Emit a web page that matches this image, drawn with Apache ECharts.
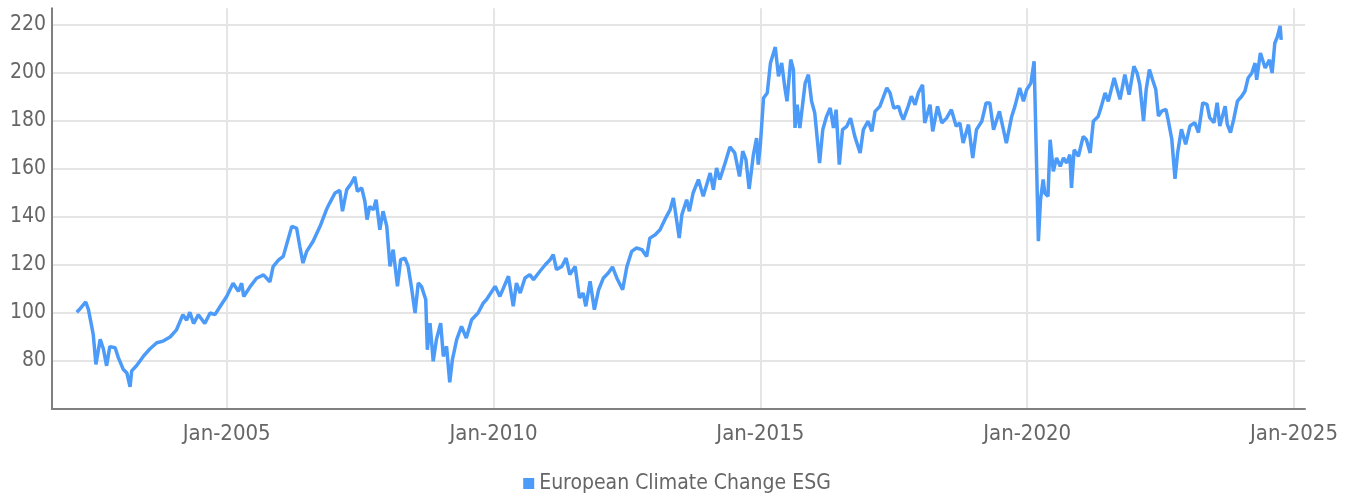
<!DOCTYPE html>
<html>
<head>
<meta charset="utf-8">
<script src="https://cdn.jsdelivr.net/npm/echarts@6/dist/echarts.min.js"></script>
<style>
html,body{margin:0;padding:0;background:#fff;}
#chart{width:1354px;height:493px;}
</style>
</head>
<body>
<div id="chart"></div>
<script>
// time in fractional years
const years = [
2002.19,2002.25,2002.36,2002.41,2002.47,2002.50,2002.55,2002.63,2002.69,2002.75,2002.81,2002.91,2002.97,
2003.06,2003.13,2003.19,2003.22,2003.31,2003.44,2003.56,2003.69,2003.81,2003.94,
2004.06,2004.18,2004.25,2004.31,2004.38,2004.47,2004.59,2004.69,2004.78,2004.88,
2005.00,2005.12,2005.22,2005.28,2005.32,2005.44,2005.56,2005.69,2005.81,2005.87,2005.97,
2006.06,2006.22,2006.31,2006.37,2006.43,2006.50,2006.62,2006.75,2006.87,2006.93,
2007.03,2007.12,2007.17,2007.25,2007.34,2007.40,2007.45,2007.53,2007.59,2007.63,2007.68,2007.75,2007.80,2007.87,2007.93,
2008.00,2008.06,2008.12,2008.20,2008.26,2008.34,2008.40,2008.46,2008.53,2008.59,2008.65,2008.73,2008.76,2008.81,2008.87,2008.93,
2009.01,2009.06,2009.12,2009.18,2009.23,2009.31,2009.40,2009.49,2009.59,2009.71,2009.81,2009.87,
2010.03,2010.12,2010.28,2010.37,2010.43,2010.50,2010.59,2010.68,2010.75,2010.87,2010.97,
2011.06,2011.12,2011.18,2011.28,2011.36,2011.43,2011.53,2011.61,2011.68,2011.73,2011.81,2011.89,2011.97,
2012.06,2012.15,2012.23,2012.31,2012.42,2012.50,2012.59,2012.68,2012.78,2012.87,2012.93,
2013.03,2013.12,2013.21,2013.31,2013.37,2013.43,2013.48,2013.53,2013.62,2013.67,2013.74,2013.84,2013.93,
2014.06,2014.12,2014.18,2014.24,2014.34,2014.43,2014.52,2014.61,2014.67,2014.73,2014.79,2014.87,2014.93,2014.96,
2015.00,2015.06,2015.13,2015.19,2015.28,2015.34,2015.40,2015.46,2015.50,2015.57,2015.62,2015.65,2015.69,2015.74,2015.84,2015.90,2015.96,
2016.02,2016.11,2016.17,2016.24,2016.31,2016.37,2016.42,2016.48,2016.54,2016.62,2016.69,2016.77,2016.87,2016.93,
2017.02,2017.09,2017.15,2017.24,2017.30,2017.37,2017.43,2017.50,2017.59,2017.64,2017.68,2017.77,2017.83,2017.90,2017.96,
2018.04,2018.08,2018.18,2018.23,2018.32,2018.40,2018.49,2018.58,2018.67,2018.74,2018.80,2018.90,2018.98,
2019.05,2019.15,2019.23,2019.30,2019.37,2019.48,2019.52,2019.61,2019.71,2019.77,2019.86,2019.93,2019.99,
2020.07,2020.13,2020.16,2020.21,2020.25,2020.30,2020.33,2020.39,2020.43,2020.49,2020.55,2020.62,2020.68,2020.74,2020.80,2020.83,2020.88,2020.96,
2021.05,2021.11,2021.18,2021.24,2021.33,2021.39,2021.46,2021.52,2021.55,2021.63,2021.74,2021.83,2021.91,
2022.00,2022.06,2022.11,2022.18,2022.23,2022.29,2022.35,2022.41,2022.46,2022.52,2022.60,2022.64,2022.71,2022.77,2022.82,2022.89,2022.97,
2023.05,2023.14,2023.21,2023.29,2023.37,2023.42,2023.50,2023.56,2023.61,2023.71,2023.75,2023.81,2023.87,2023.94,
2024.02,2024.08,2024.14,2024.21,2024.27,2024.30,2024.37,2024.46,2024.54,2024.59,2024.64,2024.69,2024.74,2024.76
];
// index level
const values = [
100.3,101.7,104.6,101.4,94.5,91,78.6,89,85,78,86,85.5,81.4,
76.6,75,69.2,75.9,78,82,85,87.6,88.3,90,
93,99.3,97,100.3,95.6,99.3,95.6,100,99.3,102.8,
106.9,112.4,109,112.4,106.9,111,114.5,115.9,113,119.3,122,
123.6,136.1,135.4,127.8,120.8,125.7,129.9,136.1,143.1,145.8,
150,151.1,142.4,151.4,154.2,156.7,150.7,152.1,146.5,138.9,144.4,143,147.2,134.7,142.4,
136.1,119.4,126.4,111.1,122.2,122.9,119.4,111.1,100,112.5,111.1,105.6,84.7,95.8,79.9,88.9,
95.8,81.9,86.1,71.1,80.6,88.9,94.4,89.6,97.2,100,104.2,105.6,
111.1,106.9,115.3,102.8,112.5,108.3,114.6,116,113.9,117.4,120.1,
122.2,124.3,118.1,119.4,122.9,116,119.4,106.3,108.3,102.8,113.2,101.4,109.7,
114.6,116.7,119.2,114.6,109.7,119.4,125.7,127.1,126.4,123.6,131.2,
132.6,134.7,138.9,143.1,147.9,138.9,131.2,141,147.2,142.4,150,155.6,148.6,
158.3,151.4,160.4,155.6,162.5,169.2,166.7,156.9,167.4,163.9,151.7,166,172.9,161.8,
170,189.6,191.7,204.2,210.8,198.6,204.2,193.8,188.2,205.6,201.4,177.1,186.8,177.1,195.8,199.3,188.2,
183.3,162.5,176.4,181.9,185.4,177.1,184.7,161.8,176.4,177.8,181.2,173.6,166.7,176.4,
179.9,175.7,184,186.1,189.6,193.8,191.7,185.4,186.1,182.5,180.6,186.1,190.3,186.8,191.7,
195.1,179.2,186.8,175.7,186.1,179.2,181.2,184.7,177.8,179.2,170.8,178.5,164.6,
176.4,179.9,187.5,187.5,176.4,184,179.9,170.8,181.9,186.1,193.8,188.2,193,
195.8,204.9,177.1,129.9,147.2,155.6,150,148.6,172.2,159,164.6,161.1,164.6,162.5,166,152.1,168,165.3,
173.6,172.2,166.7,179.9,181.9,186.1,191.7,188.2,188.3,197.9,189,199.3,191,
202.8,200,195.2,180,193.1,201.4,197.2,193.1,182.1,184.1,184.8,180.7,172.4,155.9,166.9,176.6,170.3,
177.9,179.3,175.2,187.6,186.9,181.4,179.3,187.6,177.9,186.2,178.6,175.2,180.7,188.3,
190.3,192.4,197.9,200,204.1,197.2,208.3,202.1,205.5,200,212.4,215.2,219.6,213.8
];
const seriesName = 'European Climate Change ESG';
const yTicks = [80,100,120,140,160,180,200,220];

const data = years.map((t, i) => [t, values[i]]);
const FONT = '"Liberation Sans Narrow","DejaVu Sans Condensed",sans-serif';
const TXT = '#666666';

const chart = echarts.init(document.getElementById('chart'), null, {renderer: 'canvas'});
chart.setOption({
  animation: false,
  grid: {left: 52, right: 49, top: 8.2, bottom: 84},
  legend: {
    data: [seriesName],
    top: 468,
    left: 'center',
    icon: 'rect',
    itemWidth: 11,
    itemHeight: 11,
    itemGap: 6,
    textStyle: {fontFamily: FONT, fontSize: 21, color: TXT}
  },
  xAxis: {
    type: 'value',
    min: 2001.727,
    max: 2025.206,
    splitNumber: 5,
    axisLine: {show: true, onZero: false, lineStyle: {color: '#808080', width: 2}},
    axisTick: {show: false},
    axisLabel: {
      margin: 14,
      fontFamily: FONT, fontSize: 22, color: TXT,
      showMinLabel: false, showMaxLabel: false,
      formatter: v => (Math.abs(v - Math.round(v)) < 1e-6 && Math.round(v) % 5 === 0) ? 'Jan-' + Math.round(v) : ''
    },
    splitLine: {show: true, showMinLine: false, showMaxLine: false, lineStyle: {color: '#e5e5e5', width: 2}}
  },
  yAxis: {
    type: 'value',
    min: 60,
    max: 227,
    interval: 20,
    axisLine: {show: true, lineStyle: {color: '#808080', width: 2}},
    axisTick: {show: false},
    axisLabel: {
      margin: 6,
      fontFamily: FONT, fontSize: 21, color: TXT,
      showMinLabel: false, showMaxLabel: false,
      formatter: v => yTicks.indexOf(v) >= 0 ? String(v) : ''
    },
    splitLine: {show: true, showMinLine: false, showMaxLine: false, lineStyle: {color: '#e5e5e5', width: 2}}
  },
  series: [{
    name: seriesName,
    type: 'line',
    data: data,
    showSymbol: false,
    symbol: 'none',
    lineStyle: {color: '#4d9bf8', width: 3.5},
    itemStyle: {color: '#4d9bf8'}
  }]
});
</script>
</body>
</html>
